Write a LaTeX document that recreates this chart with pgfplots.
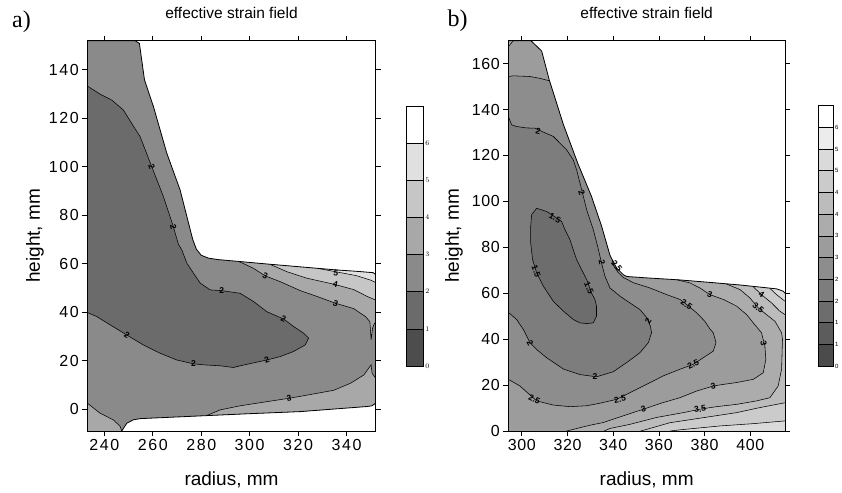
\documentclass[border=0pt]{standalone}
\usepackage{fontspec}
\setmainfont{Liberation Sans}
\newfontfamily\panelfont{Liberation Serif}
\newfontfamily\tickA[LetterSpace=10]{Liberation Sans}
\newfontfamily\tickB[LetterSpace=4]{Liberation Sans}
\usepackage{pgfplots}
\pgfplotsset{compat=1.18}

% grey levels, panel a (steps of 1)
\definecolor{aZ}{HTML}{4D4D4D}
\definecolor{aA}{HTML}{6B6B6B}
\definecolor{aB}{HTML}{8A8A8A}
\definecolor{aC}{HTML}{A8A8A8}
\definecolor{aD}{HTML}{C6C6C6}
\definecolor{aE}{HTML}{E0E0E0}
% grey levels, panel b (steps of 0.5)
\definecolor{b0}{HTML}{4B4B4B}
\definecolor{b1}{HTML}{5C5C5C}
\definecolor{b2}{HTML}{6D6D6D}
\definecolor{b3}{HTML}{7D7D7D}
\definecolor{b4}{HTML}{8D8D8D}
\definecolor{b5}{HTML}{9C9C9C}
\definecolor{b6}{HTML}{ACACAC}
\definecolor{b7}{HTML}{BCBCBC}
\definecolor{b8}{HTML}{CBCBCB}
\definecolor{b9}{HTML}{DADADA}
\definecolor{b10}{HTML}{ECECEC}

\pgfplotsset{
  strainax/.style={
    scale only axis, anchor=south west, axis on top,
    tick align=outside, major tick length=5pt,
    xticklabel pos=lower, yticklabel pos=left,
    xtick pos=both, ytick pos=both,
    axis line style={line width=0.9pt},
    tick style={black, line width=0.6pt},
    /pgf/number format/assume math mode=true,
    label style={font=\fontsize{19}{19}\selectfont},
    title style={font=\fontsize{15.5}{15.5}\selectfont, at={(axis description cs:0.5,1.0556)}, anchor=center},
    xlabel style={at={(axis description cs:0.5,-0.1255)}, anchor=center},
  },
  barax/.style={
    scale only axis, anchor=south west, axis on top,
    xmin=0, xmax=1, xtick=\empty,
    ytick pos=right, yticklabel pos=right, major tick length=0pt,
    axis line style={line width=0.6pt},
    yticklabel style={xshift=-1.5pt},
  },
  cline/.style={black, line width=0.55pt},
  region/.style={fill=#1, draw=none},
  band/.style={fill=#1, draw=black, line width=0.6pt},
}
\newcommand{\clab}[4]{\node[font=\fontsize{8.5}{8.5}\selectfont\bfseries, rotate=#3, inner sep=0pt] at (axis cs:#1,#2) {#4};}

\begin{document}
\begin{tikzpicture}[x=1pt,y=1pt]
\useasboundingbox (0,0) rectangle (842,492);

\node[font=\panelfont\fontsize{24}{24}\selectfont] at (21.5,470) {a)};
\node[font=\panelfont\fontsize{24}{24}\selectfont] at (457.5,471) {b)};

% ---------------- panel a ----------------
\begin{axis}[strainax,
  at={(87.3pt,61pt)}, width=288.4pt, height=390.3pt,
  xmin=233, xmax=352, ymin=-9, ymax=152,
  xtick={240,260,...,340}, ytick={0,20,...,140},
  ticklabel style={font=\tickA\fontsize{16}{16}\selectfont},
  title={effective strain field},
  xlabel={radius, mm}, ylabel={height, mm},
  ylabel style={at={(axis description cs:-0.1813,0.5)}, anchor=center},
]
% whole section, 2-3
\addplot[region=aB] coordinates {(233,152) (252.7,152) (254.5,150.9) (256.6,135.8) (260.3,124.8) (265.8,105.6) (271.3,90.4) (276.5,70) (278,66) (280,63.5) (283,62.3) (287,61.7) (296,60.9) (307,59.9) (321,58.7) (335,57.5) (345,56.8) (351,56.3) (352,55.5) (352,2.5) (350.5,1.4) (348.4,1.1) (320.9,-1.0) (298.9,-1.9) (254.8,-3.9) (252,-4.4) (249.3,-5.8) (247.2,-9) (233,-9)} --cycle;
% 1-2
\addplot[region=aA] coordinates {(233,133.3) (238.2,130) (243.1,127.5) (247.9,123.4) (251.3,117.9) (254.8,112.4) (259.6,100) (264.4,87.7) (268.5,75.3) (270.6,68) (272,65.7) (274.1,60.2) (276.8,56.1) (279.6,52) (283.7,49.2) (288.5,48.9) (296.1,47.8) (301.6,44.4) (307.1,40.2) (314,37.2) (318.1,34.1) (322.3,31.3) (324.3,29.3) (322.9,26.5) (318.1,23.8) (312.6,21.7) (307.1,20.3) (296.1,17.9) (293.3,17.2) (287.8,17.9) (280.9,18.3) (276.8,18.7) (269.9,20.3) (263,23.1) (256.1,26.5) (249.3,30.6) (242.4,34.8) (236.9,38.2) (233,39.9)} --cycle;
% >=3, flange top
\addplot[region=aC] coordinates {(295.4,61) (301.6,58.1) (306.4,55) (312.6,52.6) (320.9,48.9) (327.8,46.5) (335.4,43.7) (342.9,41.5) (347.8,38.2) (349.6,36.1) (350.1,28.6) (350.7,33.4) (351.5,35.5) (352,35.5) (352,55.5) (351,56.3) (345,56.8) (335,57.5) (321,58.7) (307,59.9) (296,60.9)} --cycle;
% >=3, bottom
\addplot[region=aC] coordinates {(282.3,-2.6) (287.8,-0.3) (296.1,1.4) (307.1,3.1) (316.2,4.5) (320.9,5.3) (334.7,7.8) (341.6,10.7) (347.1,14.1) (349.6,17.6) (350.1,18.3) (350.5,14.8) (352,12.8) (352,2.5) (350.5,1.4) (348.4,1.1) (320.9,-1.0) (298.9,-1.9)} --cycle;
% >=3, bottom left corner
\addplot[region=aC] coordinates {(233,2.5) (238.2,-1.6) (243.7,-4.4) (246.5,-7) (247.2,-9) (233,-9)} --cycle;
% >=4
\addplot[region=aD] coordinates {(308.5,59.7) (315.4,56.7) (323.7,54) (335.4,51.4) (343,49.3) (348.5,46.5) (352,45) (352,55.5) (351,56.3) (345,56.8) (335,57.5) (321,58.7)} --cycle;
% >=5
\addplot[region=aE] coordinates {(328,58.1) (336,56.6) (344,55.1) (350,53.2) (352,52.2) (352,55.5) (351,56.3) (345,56.8) (336,57.4)} --cycle;
% contour lines
\addplot[cline] coordinates {(233,133.3) (238.2,130) (243.1,127.5) (247.9,123.4) (251.3,117.9) (254.8,112.4) (259.6,100) (264.4,87.7) (268.5,75.3) (270.6,68) (272,65.7) (274.1,60.2) (276.8,56.1) (279.6,52) (283.7,49.2) (288.5,48.9) (296.1,47.8) (301.6,44.4) (307.1,40.2) (314,37.2) (318.1,34.1) (322.3,31.3) (324.3,29.3) (322.9,26.5) (318.1,23.8) (312.6,21.7) (307.1,20.3) (296.1,17.9) (293.3,17.2) (287.8,17.9) (280.9,18.3) (276.8,18.7) (269.9,20.3) (263,23.1) (256.1,26.5) (249.3,30.6) (242.4,34.8) (236.9,38.2) (233,39.9)};
\addplot[cline] coordinates {(295.4,61) (301.6,58.1) (306.4,55) (312.6,52.6) (320.9,48.9) (327.8,46.5) (335.4,43.7) (342.9,41.5) (347.8,38.2) (349.6,36.1) (350.1,28.6) (350.7,33.4) (351.5,35.5) (352,35.5)};
\addplot[cline] coordinates {(282.3,-2.6) (287.8,-0.3) (296.1,1.4) (307.1,3.1) (316.2,4.5) (320.9,5.3) (334.7,7.8) (341.6,10.7) (347.1,14.1) (349.6,17.6) (350.1,18.3) (350.5,14.8) (352,12.8)};
\addplot[cline] coordinates {(233,2.5) (238.2,-1.6) (243.7,-4.4) (246.5,-7) (247.2,-9)};
\addplot[cline] coordinates {(308.5,59.7) (315.4,56.7) (323.7,54) (335.4,51.4) (343,49.3) (348.5,46.5) (352,45)};
\addplot[cline] coordinates {(328,58.1) (336,56.6) (344,55.1) (350,53.2) (352,52.2)};
% outline of the section
\addplot[black, line width=0.8pt] coordinates {(233,152) (252.7,152) (254.5,150.9) (256.6,135.8) (260.3,124.8) (265.8,105.6) (271.3,90.4) (276.5,70) (278,66) (280,63.5) (283,62.3) (287,61.7) (296,60.9) (307,59.9) (321,58.7) (335,57.5) (345,56.8) (351,56.3) (352,55.5)};
\addplot[black, line width=0.8pt] coordinates {(352,2.5) (350.5,1.4) (348.4,1.1) (320.9,-1.0) (298.9,-1.9) (254.8,-3.9) (252,-4.4) (249.3,-5.8) (247.2,-9)};
% contour labels
\clab{259.6}{100}{-70}{2}
\clab{268.5}{75.3}{-75}{2}
\clab{288.5}{48.9}{0}{2}
\clab{314}{37.2}{-25}{2}
\clab{307.1}{20.3}{20}{2}
\clab{276.8}{18.7}{0}{2}
\clab{249.3}{30.6}{-30}{2}
\clab{306.4}{55}{-25}{3}
\clab{335.6}{56.3}{-10}{5}
\clab{335.4}{51.4}{-15}{4}
\clab{335.4}{43.7}{-20}{3}
\clab{316.2}{4.5}{8}{3}
\end{axis}

% colour scale a
\begin{axis}[barax, at={(406.7pt,126pt)}, width=16.6pt, height=260pt,
  ymin=0, ymax=7, ytick={0,...,6},
  yticklabel style={font=\fontsize{7}{7}\selectfont}]
\addplot[band=aZ] coordinates {(0,0) (1,0) (1,1) (0,1)} --cycle;
\addplot[band=aA] coordinates {(0,1) (1,1) (1,2) (0,2)} --cycle;
\addplot[band=aB] coordinates {(0,2) (1,2) (1,3) (0,3)} --cycle;
\addplot[band=aC] coordinates {(0,3) (1,3) (1,4) (0,4)} --cycle;
\addplot[band=aD] coordinates {(0,4) (1,4) (1,5) (0,5)} --cycle;
\addplot[band=aE] coordinates {(0,5) (1,5) (1,6) (0,6)} --cycle;
\addplot[band=white] coordinates {(0,6) (1,6) (1,7) (0,7)} --cycle;
\end{axis}

% ---------------- panel b ----------------
\begin{axis}[strainax,
  at={(508.3pt,61pt)}, width=276.7pt, height=390.3pt,
  xmin=294.1, xmax=415.2, ymin=0, ymax=170,
  xtick={300,320,...,400}, ytick={0,20,...,160},
  ticklabel style={font=\tickB\fontsize{16}{16}\selectfont},
  title={effective strain field},
  xlabel={radius, mm}, ylabel={height, mm},
  ylabel style={at={(axis description cs:-0.1962,0.5)}, anchor=center},
]
% whole section, 2.5-3
\addplot[region=b5] coordinates {(294.1,170) (304,170) (308.7,165.5) (312,153) (318.2,133.5) (324.5,116.6) (330.5,102.2) (335,89) (338.6,76.5) (341.5,71) (344.4,68.1) (345.9,67.3) (354.6,66.7) (369.2,65.8) (383.8,64.6) (395.5,63.6) (405,62.6) (411.5,61.9) (414.4,60.9) (415.2,60) (415.2,0) (294.1,0)} --cycle;
% top left corner, 3-3.5
\addplot[region=b6] coordinates {(294.1,167.4) (296.3,170) (294.1,170)} --cycle;
% below 2.5
\addplot[region=b4] coordinates {(294.1,22.5) (294.1,154.4) (296.3,154.7) (303.6,154.4) (307.9,153.6) (312.2,152.5) (318.2,133.5) (324.5,116.6) (330.5,102.2) (335,89) (338.6,76.5) (339.5,74.5) (340.5,71.5) (342.2,69) (344.4,66.9) (348.8,64.6) (356.1,62.3) (363.4,59.4) (369.2,57.3) (372.1,55.1) (376.5,51.5) (380.1,47.8) (382.5,44.2) (383.8,42.8) (385,38.5) (383.8,34.8) (379.4,31.9) (375,29) (369.2,26.9) (361.9,24) (354.6,20.3) (347.3,16.7) (341.5,13.8) (334.2,12.1) (328.4,11) (321.1,10.6) (313.8,11.3) (306.5,13.1) (299.2,19.6)} --cycle;
% below 2
\addplot[region=b3] coordinates {(294.1,51.7) (294.1,137) (295.6,133.3) (297.8,132.6) (302.1,132) (305.8,131.9) (308.7,130.5) (313.8,128.3) (316.7,125.4) (319.6,122.5) (322.5,118.1) (324,113.8) (326.2,105.1) (328.4,96.4) (331.3,87.7) (333.2,80.4) (334.9,73.2) (336.4,67.4) (338.6,62.3) (343,58.7) (347.3,55.8) (351.7,52.9) (354.6,49.5) (356.3,45.6) (356.8,42.8) (355.4,38.5) (351.7,34.1) (345.9,29.8) (340,25.8) (332.7,23.6) (325.4,24.6) (318.2,27) (310.9,31.9) (306.5,35.5) (303.6,38.4) (300.7,44.2) (297.7,48.6)} --cycle;
% below 1.5
\addplot[region=b2] coordinates {(304.3,94.2) (306.5,97) (310.9,95.6) (313.1,94.2) (317.4,91.3) (318.9,87.7) (321.1,83.3) (322.5,79) (324,74.7) (325.4,71.8) (328.4,66) (330.5,60.1) (332,57.3) (332.7,54.4) (332.7,50) (331.3,47.1) (328.4,46.8) (325.4,47.1) (322.5,48.6) (318.2,52.2) (313.8,56.5) (309.4,63.1) (306.5,68.9) (304.7,74.7) (303.9,81.9) (303.9,89.1)} --cycle;
% 3 and above
\addplot[region=b6] coordinates {(367.7,65.9) (373.6,64.5) (378,62.3) (382.3,59.4) (388.2,57.3) (394,54.4) (398.4,50.7) (401.3,47.1) (403.5,44.5) (404.9,42.8) (406.4,37) (406.8,31.2) (405.7,25.4) (401.3,22.5) (394,21.1) (388.2,20.3) (383.8,19.6) (376.5,17.4) (369.2,14.5) (361.9,12.4) (353.2,9.5) (344.4,6.6) (335.7,3.7) (329.8,2.5) (319.6,0) (415.2,0) (415.2,60) (414.4,60.9) (411.5,61.9) (405,62.6) (395.5,63.6) (383.8,64.6)} --cycle;
% 3.5 and above
\addplot[region=b7] coordinates {(389.6,64) (395.5,61.6) (399.8,58) (403.5,53.6) (407.1,50.7) (410.8,47.8) (412.9,44.2) (413.7,42.8) (414.1,39.9) (413.7,26.9) (412.2,19.6) (408.6,14.5) (402.7,13.1) (394,11.6) (385.2,10.6) (378,9.5) (370.7,8) (359,5.9) (347.3,2.9) (338.6,1.1) (336,0) (415.2,0) (415.2,60) (414.4,60.9) (411.5,61.9) (405,62.6) (395.5,63.6)} --cycle;
% 4 and above
\addplot[region=b8] coordinates {(401.3,62.8) (404.9,59.4) (409.3,55.8) (412.9,52.2) (415.2,50.7) (415.2,60) (414.4,60.9) (411.5,61.9) (405,62.6)} --cycle;
\addplot[region=b8] coordinates {(415.2,12.3) (404.2,10.2) (394,8) (379.4,5.8) (364.8,3.6) (354.6,0.7) (352,0) (415.2,0)} --cycle;
% 4.5 and above
\addplot[region=b9] coordinates {(408.6,62.1) (411.5,59.4) (415.2,56.5) (415.2,60) (414.4,60.9) (411.5,61.9)} --cycle;
\addplot[region=b9] coordinates {(415.2,4.4) (401.3,3.2) (386.7,2.2) (369.2,0.5) (365,0) (415.2,0)} --cycle;
% contour lines
\addplot[cline] coordinates {(294.1,167.4) (296.3,170)};
\addplot[cline] coordinates {(294.1,154.4) (296.3,154.7) (303.6,154.4) (307.9,153.6) (312.2,152.5)};
\addplot[cline] coordinates {(294.1,137) (295.6,133.3) (297.8,132.6) (302.1,132) (305.8,131.9) (308.7,130.5) (313.8,128.3) (316.7,125.4) (319.6,122.5) (322.5,118.1) (324,113.8) (326.2,105.1) (328.4,96.4) (331.3,87.7) (333.2,80.4) (334.9,73.2) (336.4,67.4) (338.6,62.3) (343,58.7) (347.3,55.8) (351.7,52.9) (354.6,49.5) (356.3,45.6) (356.8,42.8) (355.4,38.5) (351.7,34.1) (345.9,29.8) (340,25.8) (332.7,23.6) (325.4,24.6) (318.2,27) (310.9,31.9) (306.5,35.5) (303.6,38.4) (300.7,44.2) (297.7,48.6) (294.1,51.7)};
\addplot[cline] coordinates {(304.3,94.2) (306.5,97) (310.9,95.6) (313.1,94.2) (317.4,91.3) (318.9,87.7) (321.1,83.3) (322.5,79) (324,74.7) (325.4,71.8) (328.4,66) (330.5,60.1) (332,57.3) (332.7,54.4) (332.7,50) (331.3,47.1) (328.4,46.8) (325.4,47.1) (322.5,48.6) (318.2,52.2) (313.8,56.5) (309.4,63.1) (306.5,68.9) (304.7,74.7) (303.9,81.9) (303.9,89.1) (304.3,94.2)};
\addplot[cline] coordinates {(339.5,74.5) (340.5,71.5) (342.2,69) (344.4,66.9) (348.8,64.6) (356.1,62.3) (363.4,59.4) (369.2,57.3) (372.1,55.1) (376.5,51.5) (380.1,47.8) (382.5,44.2) (383.8,42.8) (385,38.5) (383.8,34.8) (379.4,31.9) (375,29) (369.2,26.9) (361.9,24) (354.6,20.3) (347.3,16.7) (341.5,13.8) (334.2,12.1) (328.4,11) (321.1,10.6) (313.8,11.3) (306.5,13.1) (299.2,19.6) (294.1,22.5)};
\addplot[cline] coordinates {(367.7,65.9) (373.6,64.5) (378,62.3) (382.3,59.4) (388.2,57.3) (394,54.4) (398.4,50.7) (401.3,47.1) (403.5,44.5) (404.9,42.8) (406.4,37) (406.8,31.2) (405.7,25.4) (401.3,22.5) (394,21.1) (388.2,20.3) (383.8,19.6) (376.5,17.4) (369.2,14.5) (361.9,12.4) (353.2,9.5) (344.4,6.6) (335.7,3.7) (329.8,2.5) (319.6,0)};
\addplot[cline] coordinates {(389.6,64) (395.5,61.6) (399.8,58) (403.5,53.6) (407.1,50.7) (410.8,47.8) (412.9,44.2) (413.7,42.8) (414.1,39.9) (413.7,26.9) (412.2,19.6) (408.6,14.5) (402.7,13.1) (394,11.6) (385.2,10.6) (378,9.5) (370.7,8) (359,5.9) (347.3,2.9) (338.6,1.1) (336,0)};
\addplot[cline] coordinates {(401.3,62.8) (404.9,59.4) (409.3,55.8) (412.9,52.2) (415.2,50.7)};
\addplot[cline] coordinates {(415.2,12.3) (404.2,10.2) (394,8) (379.4,5.8) (364.8,3.6) (354.6,0.7) (352,0)};
\addplot[cline] coordinates {(408.6,62.1) (411.5,59.4) (415.2,56.5)};
\addplot[cline] coordinates {(415.2,4.4) (401.3,3.2) (386.7,2.2) (369.2,0.5) (365,0)};
% outline of the section
\addplot[black, line width=0.8pt] coordinates {(294.1,170) (304,170) (308.7,165.5) (312,153) (318.2,133.5) (324.5,116.6) (330.5,102.2) (335,89) (338.6,76.5) (341.5,71) (344.4,68.1) (345.9,67.3) (354.6,66.7) (369.2,65.8) (383.8,64.6) (395.5,63.6) (405,62.6) (411.5,61.9) (414.4,60.9) (415.2,60)};
% contour labels
\clab{307.2}{130.4}{-15}{2}
\clab{326.2}{104}{-70}{2}
\clab{314.5}{92.8}{-30}{1.5}
\clab{306.3}{69.6}{-70}{1.5}
\clab{329.4}{62.3}{-65}{1.5}
\clab{335.1}{73.5}{-80}{2}
\clab{341.6}{71.8}{-50}{2.5}
\clab{355.3}{47.8}{60}{2}
\clab{332}{23.6}{0}{2}
\clab{303.6}{38.4}{-60}{2}
\clab{305.5}{14}{-25}{2.5}
\clab{343}{13.8}{10}{2.5}
\clab{372.1}{55.1}{-35}{2.5}
\clab{375}{29}{25}{2.5}
\clab{382.3}{59.4}{-20}{3}
\clab{405.9}{38}{-80}{3}
\clab{383.8}{19.6}{10}{3}
\clab{353.2}{9.5}{15}{3}
\clab{403.5}{53.6}{-40}{3.5}
\clab{378}{9.5}{8}{3.5}
\clab{404.9}{59.4}{-35}{4}
\end{axis}

% colour scale b
\begin{axis}[barax, at={(818pt,126pt)}, width=15pt, height=260.3pt,
  ymin=0, ymax=12, ytick={0,...,11},
  yticklabels={0,1,1,2,2,3,3,4,4,5,5,6},
  yticklabel style={font=\fontsize{6}{6}\selectfont}]
\addplot[band=b0] coordinates {(0,0) (1,0) (1,1) (0,1)} --cycle;
\addplot[band=b1] coordinates {(0,1) (1,1) (1,2) (0,2)} --cycle;
\addplot[band=b2] coordinates {(0,2) (1,2) (1,3) (0,3)} --cycle;
\addplot[band=b3] coordinates {(0,3) (1,3) (1,4) (0,4)} --cycle;
\addplot[band=b4] coordinates {(0,4) (1,4) (1,5) (0,5)} --cycle;
\addplot[band=b5] coordinates {(0,5) (1,5) (1,6) (0,6)} --cycle;
\addplot[band=b6] coordinates {(0,6) (1,6) (1,7) (0,7)} --cycle;
\addplot[band=b7] coordinates {(0,7) (1,7) (1,8) (0,8)} --cycle;
\addplot[band=b8] coordinates {(0,8) (1,8) (1,9) (0,9)} --cycle;
\addplot[band=b9] coordinates {(0,9) (1,9) (1,10) (0,10)} --cycle;
\addplot[band=b10] coordinates {(0,10) (1,10) (1,11) (0,11)} --cycle;
\addplot[band=white] coordinates {(0,11) (1,11) (1,12) (0,12)} --cycle;
\end{axis}
\end{tikzpicture}
\end{document}
